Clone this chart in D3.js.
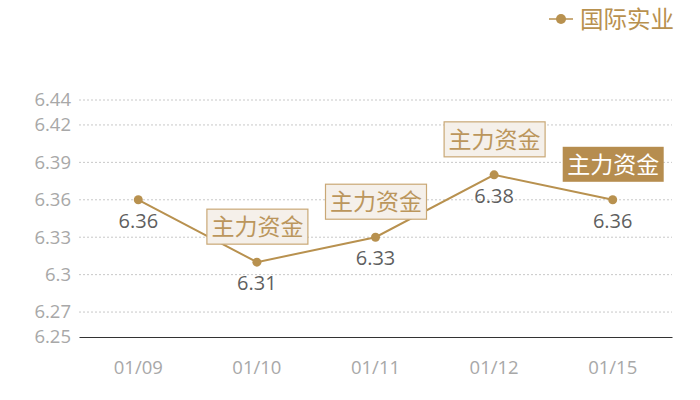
<!DOCTYPE html>
<html><head><meta charset="utf-8">
<script src="https://cdn.jsdelivr.net/npm/d3@7"></script>
<style>body{margin:0;background:#fff;}svg{display:block;font-family:"Noto Sans CJK SC","Open Sans",sans-serif;}</style>
</head><body><svg id="c" width="700" height="400"></svg>
<script>
const categories = ["01/09","01/10","01/11","01/12","01/15"];
const values = [6.36, 6.31, 6.33, 6.38, 6.36];
const yTicks = [6.25, 6.27, 6.3, 6.33, 6.36, 6.39, 6.42, 6.44];
const annotations = ["", "主力资金", "主力资金", "主力资金", "主力资金"];
const annotationFilled = [false, false, false, false, true];
const seriesName = "国际实业";

const gold = "#b8914f";
const svg = d3.select("#c");
const m = {l:79, r:672, t:100, b:337};
const x = d3.scaleBand().domain(categories).range([m.l, m.r]);
const y = d3.scaleLinear().domain([6.25, 6.44]).range([m.b, m.t]);
const cx = d => x(d) + x.bandwidth()/2;

// grid
svg.append("g").selectAll("line").data(yTicks.filter(t => t !== 6.25)).join("line")
  .attr("x1", m.l).attr("x2", m.r).attr("y1", d => y(d)).attr("y2", d => y(d))
  .attr("stroke", "#c8c8c8").attr("stroke-dasharray", "2,2").attr("stroke-width", 1);

// y axis labels
const ya = svg.append("g").attr("transform", `translate(${m.l},0)`)
  .call(d3.axisLeft(y).tickValues(yTicks).tickSize(0).tickPadding(8).tickFormat(d => String(d)));
ya.select(".domain").remove();
ya.selectAll("text").attr("fill", "#a8a8a8").attr("font-size", 18.5).attr("font-family", "'Open Sans',sans-serif");

// x axis
const xa = svg.append("g").attr("transform", `translate(0,${m.b})`)
  .call(d3.axisBottom(x).tickSize(0).tickPadding(24));
xa.select(".domain").attr("stroke", "#333").attr("stroke-width", 1.2);
xa.selectAll("text").attr("fill", "#a8a8a8").attr("font-size", 18.5).attr("font-family", "'Open Sans',sans-serif");

// line
const pts = categories.map((c, i) => ({c, v: values[i], a: annotations[i], f: annotationFilled[i]}));
svg.append("path").datum(pts)
  .attr("d", d3.line().x(d => cx(d.c)).y(d => y(d.v)))
  .attr("fill", "none").attr("stroke", gold).attr("stroke-width", 2);
svg.append("g").selectAll("circle").data(pts).join("circle")
  .attr("cx", d => cx(d.c)).attr("cy", d => y(d.v)).attr("r", 4.5).attr("fill", gold);

// value labels
svg.append("g").selectAll("text").data(pts).join("text")
  .attr("x", d => cx(d.c)).attr("y", d => y(d.v) + 28).attr("text-anchor", "middle")
  .attr("fill", "#5f5f5f").attr("font-size", 20).attr("font-family", "'Open Sans',sans-serif")
  .text(d => d3.format(".2f")(d.v));

// annotations
const ag = svg.append("g").selectAll("g").data(pts.filter(d => d.a)).join("g")
  .attr("transform", d => `translate(${cx(d.c)},${y(d.v) - 18})`);
ag.append("rect").attr("x", -50).attr("y", -35).attr("width", 101).attr("height", 35)
  .attr("fill", d => d.f ? "#b68d4f" : "#f5f0ea")
  .attr("stroke", d => d.f ? "none" : "#c9a876").attr("stroke-width", 1.2);
ag.append("text").attr("x", 0.5).attr("y", -9).attr("text-anchor", "middle")
  .attr("font-size", 23).attr("fill", d => d.f ? "#fff" : "#bb965c").text(d => d.a);

// legend
const lg = svg.append("g").attr("transform", "translate(0,19)");
lg.append("line").attr("x1", 549).attr("x2", 573).attr("y1", 0).attr("y2", 0).attr("stroke", gold).attr("stroke-width", 1.5);
lg.append("circle").attr("cx", 561).attr("cy", 0).attr("r", 5).attr("fill", gold);
lg.append("text").attr("x", 580).attr("y", 9).attr("font-size", 23.5).attr("fill", gold).text(seriesName);
</script></body></html>
